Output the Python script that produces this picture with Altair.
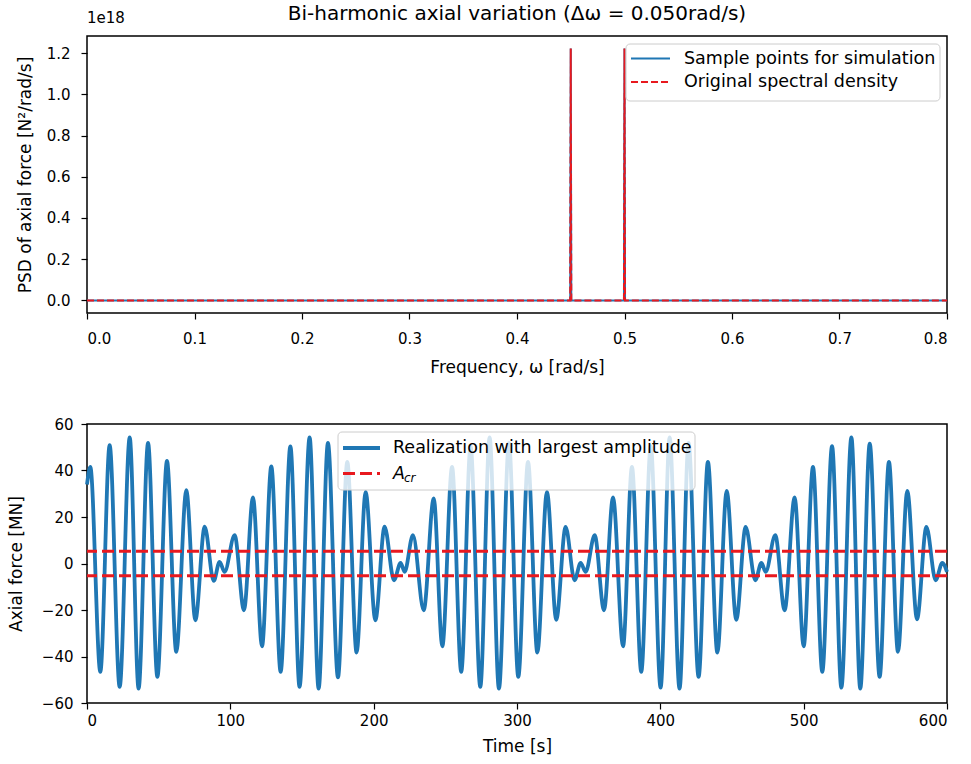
import altair as alt
import pandas as pd

# ---------------- data ----------------
# top panel: PSD of axial force (raw N^2/(rad/s))
omega = [0.0, 0.4495, 0.45, 0.4505, 0.4995, 0.5, 0.5005, 0.8]
psd_sample = [0.0, 0.0, 1.222e18, 0.0, 0.0, 1.222e18, 0.0, 0.0]
psd_original = [0.0, 0.0, 1.222e18, 0.0, 0.0, 1.222e18, 0.0, 0.0]

# bottom panel: realization (extrema), MN
time_s = [0, 2.3, 9.3, 15.8, 22.8, 29.8, 36.0, 42.6, 49.1, 55.8, 62.3, 69.3, 75.6, 82.1, 88.4, 92.5, 96.0, 103.0, 109.5, 115.8, 122.1,
          128.6, 135.1, 141.9, 148.3, 155.3, 161.6, 168.1, 175.1, 181.6, 188.1, 194.4, 201.2, 207.6, 214.2, 218.8, 221.6, 227.4, 234.9, 241.9,
          247.9, 254.7, 261.1, 267.6, 274.4, 280.9, 287.4, 294.4, 300.9, 307.7, 314.2, 320.9, 327.4, 333.9, 340.2, 344.4, 347.9, 354.2, 360.7, 367.0,
          374.0, 380.2, 386.7, 393.3, 400.2, 406.5, 413.4, 419.7, 426.7, 433.2, 439.8, 446.3, 453.0, 459.5, 466.3, 470.5, 473.5, 480.2, 486.7,
          493.7, 500.0, 506.5, 513.0, 519.8, 526.3, 533.3, 539.5, 546.1, 553.0, 559.5, 565.8, 572.3, 579.1, 585.6, 592.1, 596.7, 600.0]
force_mn = [34, 41.5, -46.6, 50.9, -53.1, 54.2, -53.8, 51.9, -48.8, 44.1, -38.0, 31.5, -24.4, 15.8, -7.5, 0.7, -3.6, 12.2, -20.1, 28.4, -35.6,
            41.8, -46.6, 50.4, -53.1, 54.2, -53.8, 51.9, -49.0, 43.7, -38.3, 30.8, -24.4, 15.8, -7.2, 0.3, -3.6, 12.2, -20.1, 28.0,
            -35.6, 41.5, -46.6, 50.5, -53.1, 54.2, -53.8, 51.9, -48.8, 43.7, -38.3, 30.8, -24.2, 15.7, -7.2, 0.3, -3.6, 12.2, -20.1, 28.4,
            -35.6, 41.5, -46.6, 50.5, -53.4, 54.2, -53.8, 51.9, -48.8, 43.7, -38.3, 31.2, -24.2, 15.7, -7.2, 0.3, -3.6, 12.2, -20.1,
            28.4, -35.6, 41.5, -46.6, 50.5, -53.4, 54.2, -53.8, 51.6, -48.8, 43.7, -38.0, 31.2, -24.0, 15.7, -7.2, 0.3, -3.6]
a_cr = [5.3, -5.3]

freq_ticks = [0.0, 0.1, 0.2, 0.3, 0.4, 0.5, 0.6, 0.7, 0.8]
psd_ticks = [0.0, 0.2e18, 0.4e18, 0.6e18, 0.8e18, 1.0e18, 1.2e18]
time_ticks = [0, 100, 200, 300, 400, 500, 600]
force_ticks = [-60, -40, -20, 0, 20, 40, 60]

BLUE = "#1f77b4"
RED = "#e8191f"
FONT = "DejaVu Sans"
TICK_FS = 15
TITLE_FS = 17
LEG_FS = 17.5

top_df = pd.DataFrame({"omega": omega, "sample": psd_sample, "orig": psd_original})
bot_df = pd.DataFrame({"t": time_s, "f": force_mn})
acr_df = pd.DataFrame({"acr": a_cr})
one = pd.DataFrame({"k": [0]})


def txt(x, y, s, size, **kw):
    return alt.Chart(one).mark_text(align=kw.pop("align", "left"), baseline="middle", fontSize=size,
                                    font=FONT, color="black", **kw).encode(
        x=alt.value(x), y=alt.value(y), text=alt.value(s))


# ---------------- top panel ----------------
xs_top = alt.Scale(domain=[0, 0.8], nice=False, zero=False)
ys_top = alt.Scale(domain=[-0.0611e18, 1.2831e18], nice=False, zero=False)
x_top = alt.X("omega:Q", scale=xs_top,
              axis=alt.Axis(values=freq_ticks, format=".1f", title="Frequency, ω [rad/s]",
                            labelPadding=12, titlePadding=13))
y_top = alt.Y("sample:Q", scale=ys_top,
              axis=alt.Axis(values=psd_ticks, labelExpr="format(datum.value/1e18, '.1f')",
                            title="PSD of axial force [N²/rad/s]", labelPadding=11, titlePadding=12))

sample_line = alt.Chart(top_df).mark_line(color=BLUE, strokeWidth=2).encode(x=x_top, y=y_top)
orig_line = alt.Chart(top_df).mark_line(color=RED, strokeWidth=2, strokeDash=[7, 3]).encode(
    x=alt.X("omega:Q", scale=xs_top), y=alt.Y("orig:Q", scale=ys_top))

main_title = txt(430, -22.5, "Bi-harmonic axial variation (Δω = 0.050rad/s)", 20, align="center")
offset_text = txt(0, -18.5, "1e18", TICK_FS)

leg_box_top = alt.Chart(one).mark_rect(fill="white", fillOpacity=0.8, stroke="#cccccc", strokeWidth=1, cornerRadius=4).encode(
    x=alt.value(539), x2=alt.value(853), y=alt.value(8), y2=alt.value(65))
leg_l1 = alt.Chart(one).mark_rule(color=BLUE, strokeWidth=2.2).encode(x=alt.value(544), x2=alt.value(583), y=alt.value(22.5))
leg_l2 = alt.Chart(one).mark_rule(color=RED, strokeWidth=2.2, strokeDash=[7, 3]).encode(x=alt.value(544), x2=alt.value(583), y=alt.value(46))
leg_t1 = txt(597, 22.5, "Sample points for simulation", LEG_FS)
leg_t2 = txt(597, 46, "Original spectral density", LEG_FS)

top = alt.layer(sample_line, orig_line, main_title, offset_text, leg_box_top, leg_l1, leg_l2, leg_t1, leg_t2).properties(
    width=860, height=277)

# ---------------- bottom panel ----------------
xs_bot = alt.Scale(domain=[0, 600], nice=False, zero=False)
ys_bot = alt.Scale(domain=[-60, 60], nice=False, zero=False)

real_line = alt.Chart(bot_df).mark_line(color=BLUE, strokeWidth=3.8, interpolate="monotone").encode(
    x=alt.X("t:Q", scale=xs_bot, axis=alt.Axis(values=time_ticks, title="Time [s]",
                                               labelPadding=4, titlePadding=10)),
    y=alt.Y("f:Q", scale=ys_bot, axis=alt.Axis(values=force_ticks, title="Axial force [MN]",
                                               labelPadding=8, titlePadding=16)))
acr_rules = alt.Chart(acr_df).mark_rule(color=RED, strokeWidth=3, strokeDash=[12, 5]).encode(
    y=alt.Y("acr:Q", scale=ys_bot))

leg_box_bot = alt.Chart(one).mark_rect(fill="white", fillOpacity=0.8, stroke="#cccccc", strokeWidth=1, cornerRadius=4).encode(
    x=alt.value(251), x2=alt.value(608), y=alt.value(8), y2=alt.value(66))
leg_b1 = alt.Chart(one).mark_rule(color=BLUE, strokeWidth=3.8).encode(x=alt.value(256), x2=alt.value(293), y=alt.value(24))
leg_b2 = alt.Chart(one).mark_rule(color=RED, strokeWidth=3, strokeDash=[12, 5]).encode(x=alt.value(256), x2=alt.value(293), y=alt.value(49.5))
leg_bt1 = txt(306, 24, "Realization with largest amplitude", LEG_FS)
leg_bt2 = txt(306, 49.5, "A", LEG_FS, fontStyle="italic")
leg_bt3 = txt(317, 54, "cr", 12, fontStyle="italic")

bottom = alt.layer(real_line, acr_rules, leg_box_bot, leg_b1, leg_b2, leg_bt1, leg_bt2, leg_bt3).properties(
    width=860, height=279)

chart = alt.vconcat(top, bottom, spacing=40).configure(
    padding={"left": 6, "top": 2, "right": 5, "bottom": 2}
).configure_view(
    stroke="black", strokeWidth=1.5
).configure_axis(
    domain=False, grid=False, ticks=True, tickColor="black", tickSize=6, tickWidth=1.2,
    labelFont=FONT, labelFontSize=TICK_FS, labelColor="black",
    titleFont=FONT, titleFontSize=TITLE_FS, titleFontWeight="normal", titleColor="black"
)

chart.save("out.html", embed_options={"renderer": "svg", "actions": False})
